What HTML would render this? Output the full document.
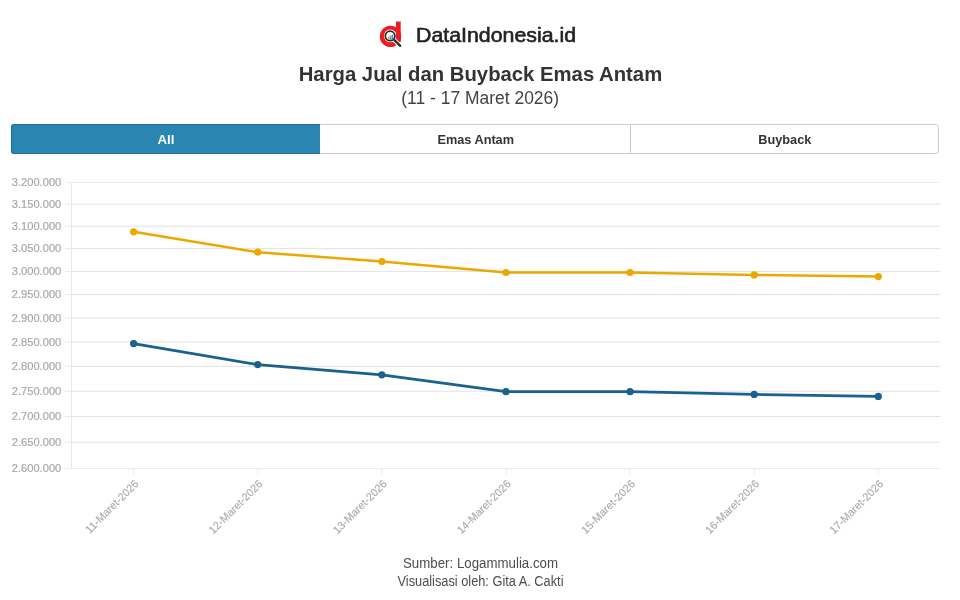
<!DOCTYPE html>
<html><head><meta charset="utf-8"><style>
html,body{margin:0;padding:0;background:#fff;width:960px;height:600px;overflow:hidden}
svg{display:block;will-change:transform;font-family:"Liberation Sans",sans-serif}
.yl{font-size:11.4px;fill:#a8a8a8;stroke:#a8a8a8;stroke-width:0.2px;text-anchor:end}
.xl{font-size:11px;fill:#ababab;stroke:#ababab;stroke-width:0.15px}
</style></head><body>
<svg width="960" height="600" viewBox="0 0 960 600">
<g>
<path fill-rule="evenodd" fill="#ec1c24" d="M379.8,36.4 a10.7,10.7 0 1 0 21.4,0 a10.7,10.7 0 1 0 -21.4,0z M383.9,35.9 a6.4,6.4 0 1 0 12.8,0 a6.4,6.4 0 1 0 -12.8,0z"/>
<rect x="396.0" y="21.5" width="4.7" height="20.5" fill="#ec1c24"/>
<line x1="394.7" y1="40.4" x2="400.4" y2="46.1" stroke="#fff" stroke-width="4.2" stroke-linecap="round"/>
<circle cx="390.1" cy="35.9" r="4.75" fill="#fff" stroke="#2b2b2b" stroke-width="1.8"/>
<line x1="394.2" y1="39.9" x2="400.2" y2="45.9" stroke="#2b2b2b" stroke-width="2.2" stroke-linecap="round"/>
<path d="M387.7,37.3 Q388.4,36.7 389.2,36.8 V39.6 H387.7z" fill="#f39c2c"/>
<path d="M389.6,36.3 Q390.3,35.7 391.1,35.8 V39.6 H389.6z" fill="#4caf50"/>
<path d="M391.5,35.0 Q392.3,34.4 393.1,34.5 V39.6 H391.5z" fill="#3d8fd6"/>
</g>
<text x="416" y="42.1" font-size="20.3" fill="#222" stroke="#222" stroke-width="0.6" textLength="160" lengthAdjust="spacingAndGlyphs">DataIndonesia.id</text>
<text x="298.7" y="80.9" font-size="21" font-weight="bold" fill="#333" textLength="363.5" lengthAdjust="spacingAndGlyphs">Harga Jual dan Buyback Emas Antam</text>
<text x="401.3" y="104.3" font-size="17.5" fill="#444" textLength="157.8" lengthAdjust="spacingAndGlyphs">(11 - 17 Maret 2026)</text>
<g>
<rect x="11.5" y="124.5" width="927" height="29" rx="3" fill="#fff" stroke="#cccccc"/>
<line x1="630.5" x2="630.5" y1="124.5" y2="153.5" stroke="#cccccc"/>
<path d="M320,124 H14 a3,3 0 0 0 -3,3 V151 a3,3 0 0 0 3,3 H320z" fill="#2a86b1"/>
<path d="M320,124.5 H14 a2.5,2.5 0 0 0 -2.5,2.5 V151 a2.5,2.5 0 0 0 2.5,2.5 H320" fill="none" stroke="#1f6f96"/>
<text x="157.5" y="143.75" font-size="13" font-weight="bold" fill="#fff" textLength="17" lengthAdjust="spacingAndGlyphs">All</text>
<text x="437.5" y="143.75" font-size="13" font-weight="bold" fill="#333" textLength="76.5" lengthAdjust="spacingAndGlyphs">Emas Antam</text>
<text x="758.3" y="143.75" font-size="13" font-weight="bold" fill="#333" textLength="53" lengthAdjust="spacingAndGlyphs">Buyback</text>
</g>
<g stroke="#e8e8e8" stroke-width="1"><line x1="71.5" x2="940" y1="182.50" y2="182.50" stroke="#ebebeb"/><line x1="64.5" x2="71.5" y1="182.50" y2="182.50" stroke="#ebebeb" stroke-opacity="0.75"/><line x1="71.5" x2="940" y1="204.19" y2="204.19" stroke="#e3e3e3"/><line x1="64.5" x2="71.5" y1="204.19" y2="204.19" stroke="#e3e3e3" stroke-opacity="0.75"/><line x1="71.5" x2="940" y1="226.23" y2="226.23" stroke="#e3e3e3"/><line x1="64.5" x2="71.5" y1="226.23" y2="226.23" stroke="#e3e3e3" stroke-opacity="0.75"/><line x1="71.5" x2="940" y1="248.63" y2="248.63" stroke="#e3e3e3"/><line x1="64.5" x2="71.5" y1="248.63" y2="248.63" stroke="#e3e3e3" stroke-opacity="0.75"/><line x1="71.5" x2="940" y1="271.39" y2="271.39" stroke="#e3e3e3"/><line x1="64.5" x2="71.5" y1="271.39" y2="271.39" stroke="#e3e3e3" stroke-opacity="0.75"/><line x1="71.5" x2="940" y1="294.54" y2="294.54" stroke="#e3e3e3"/><line x1="64.5" x2="71.5" y1="294.54" y2="294.54" stroke="#e3e3e3" stroke-opacity="0.75"/><line x1="71.5" x2="940" y1="318.09" y2="318.09" stroke="#e3e3e3"/><line x1="64.5" x2="71.5" y1="318.09" y2="318.09" stroke="#e3e3e3" stroke-opacity="0.75"/><line x1="71.5" x2="940" y1="342.05" y2="342.05" stroke="#e3e3e3"/><line x1="64.5" x2="71.5" y1="342.05" y2="342.05" stroke="#e3e3e3" stroke-opacity="0.75"/><line x1="71.5" x2="940" y1="366.42" y2="366.42" stroke="#e3e3e3"/><line x1="64.5" x2="71.5" y1="366.42" y2="366.42" stroke="#e3e3e3" stroke-opacity="0.75"/><line x1="71.5" x2="940" y1="391.24" y2="391.24" stroke="#e3e3e3"/><line x1="64.5" x2="71.5" y1="391.24" y2="391.24" stroke="#e3e3e3" stroke-opacity="0.75"/><line x1="71.5" x2="940" y1="416.52" y2="416.52" stroke="#e3e3e3"/><line x1="64.5" x2="71.5" y1="416.52" y2="416.52" stroke="#e3e3e3" stroke-opacity="0.75"/><line x1="71.5" x2="940" y1="442.26" y2="442.26" stroke="#e3e3e3"/><line x1="64.5" x2="71.5" y1="442.26" y2="442.26" stroke="#e3e3e3" stroke-opacity="0.75"/><line x1="71.5" x2="940" y1="468.50" y2="468.50" stroke="#ebebeb"/><line x1="64.5" x2="71.5" y1="468.50" y2="468.50" stroke="#ebebeb" stroke-opacity="0.75"/><line x1="71.5" x2="71.5" y1="182.5" y2="468.5"/><line x1="133.60" x2="133.60" y1="468.5" y2="475"/><line x1="257.72" x2="257.72" y1="468.5" y2="475"/><line x1="381.84" x2="381.84" y1="468.5" y2="475"/><line x1="505.96" x2="505.96" y1="468.5" y2="475"/><line x1="630.08" x2="630.08" y1="468.5" y2="475"/><line x1="754.20" x2="754.20" y1="468.5" y2="475"/><line x1="878.32" x2="878.32" y1="468.5" y2="475"/></g>
<text x="61.3" y="186.05" class="yl" textLength="49.6" lengthAdjust="spacingAndGlyphs">3.200.000</text><text x="61.3" y="207.74" class="yl" textLength="49.6" lengthAdjust="spacingAndGlyphs">3.150.000</text><text x="61.3" y="229.78" class="yl" textLength="49.6" lengthAdjust="spacingAndGlyphs">3.100.000</text><text x="61.3" y="252.18" class="yl" textLength="49.6" lengthAdjust="spacingAndGlyphs">3.050.000</text><text x="61.3" y="274.94" class="yl" textLength="49.6" lengthAdjust="spacingAndGlyphs">3.000.000</text><text x="61.3" y="298.09" class="yl" textLength="49.6" lengthAdjust="spacingAndGlyphs">2.950.000</text><text x="61.3" y="321.64" class="yl" textLength="49.6" lengthAdjust="spacingAndGlyphs">2.900.000</text><text x="61.3" y="345.60" class="yl" textLength="49.6" lengthAdjust="spacingAndGlyphs">2.850.000</text><text x="61.3" y="369.97" class="yl" textLength="49.6" lengthAdjust="spacingAndGlyphs">2.800.000</text><text x="61.3" y="394.79" class="yl" textLength="49.6" lengthAdjust="spacingAndGlyphs">2.750.000</text><text x="61.3" y="420.07" class="yl" textLength="49.6" lengthAdjust="spacingAndGlyphs">2.700.000</text><text x="61.3" y="445.81" class="yl" textLength="49.6" lengthAdjust="spacingAndGlyphs">2.650.000</text><text x="61.3" y="472.05" class="yl" textLength="49.6" lengthAdjust="spacingAndGlyphs">2.600.000</text>
<path d="M133.60,231.80 L257.72,252.20 L381.84,261.50 L505.96,272.50 L630.08,272.50 L754.20,274.90 L878.32,276.60" fill="none" stroke="#eaa800" stroke-width="2.5" stroke-linejoin="round"/><circle cx="133.60" cy="231.80" r="3.6" fill="#eaa800"/><circle cx="257.72" cy="252.20" r="3.6" fill="#eaa800"/><circle cx="381.84" cy="261.50" r="3.6" fill="#eaa800"/><circle cx="505.96" cy="272.50" r="3.6" fill="#eaa800"/><circle cx="630.08" cy="272.50" r="3.6" fill="#eaa800"/><circle cx="754.20" cy="274.90" r="3.6" fill="#eaa800"/><circle cx="878.32" cy="276.60" r="3.6" fill="#eaa800"/><path d="M133.60,343.60 L257.72,364.60 L381.84,374.80 L505.96,391.70 L630.08,391.70 L754.20,394.40 L878.32,396.40" fill="none" stroke="#17628f" stroke-width="2.7" stroke-linejoin="round"/><circle cx="133.60" cy="343.60" r="3.6" fill="#17628f"/><circle cx="257.72" cy="364.60" r="3.6" fill="#17628f"/><circle cx="381.84" cy="374.80" r="3.6" fill="#17628f"/><circle cx="505.96" cy="391.70" r="3.6" fill="#17628f"/><circle cx="630.08" cy="391.70" r="3.6" fill="#17628f"/><circle cx="754.20" cy="394.40" r="3.6" fill="#17628f"/><circle cx="878.32" cy="396.40" r="3.6" fill="#17628f"/>
<text class="xl" transform="translate(139.20,484.50) rotate(-45)" text-anchor="end" textLength="69.9" lengthAdjust="spacingAndGlyphs">11-Maret-2026</text><text class="xl" transform="translate(263.32,484.50) rotate(-45)" text-anchor="end" textLength="70.7" lengthAdjust="spacingAndGlyphs">12-Maret-2026</text><text class="xl" transform="translate(387.44,484.50) rotate(-45)" text-anchor="end" textLength="70.7" lengthAdjust="spacingAndGlyphs">13-Maret-2026</text><text class="xl" transform="translate(511.56,484.50) rotate(-45)" text-anchor="end" textLength="70.7" lengthAdjust="spacingAndGlyphs">14-Maret-2026</text><text class="xl" transform="translate(635.68,484.50) rotate(-45)" text-anchor="end" textLength="70.7" lengthAdjust="spacingAndGlyphs">15-Maret-2026</text><text class="xl" transform="translate(759.80,484.50) rotate(-45)" text-anchor="end" textLength="70.7" lengthAdjust="spacingAndGlyphs">16-Maret-2026</text><text class="xl" transform="translate(883.92,484.50) rotate(-45)" text-anchor="end" textLength="70.7" lengthAdjust="spacingAndGlyphs">17-Maret-2026</text>
<text x="403" y="567.9" font-size="14" fill="#4d4d4d" textLength="155" lengthAdjust="spacingAndGlyphs">Sumber: Logammulia.com</text>
<text x="397.5" y="585.6" font-size="14" fill="#4d4d4d" textLength="166" lengthAdjust="spacingAndGlyphs">Visualisasi oleh: Gita A. Cakti</text>
</svg>
</body></html>
